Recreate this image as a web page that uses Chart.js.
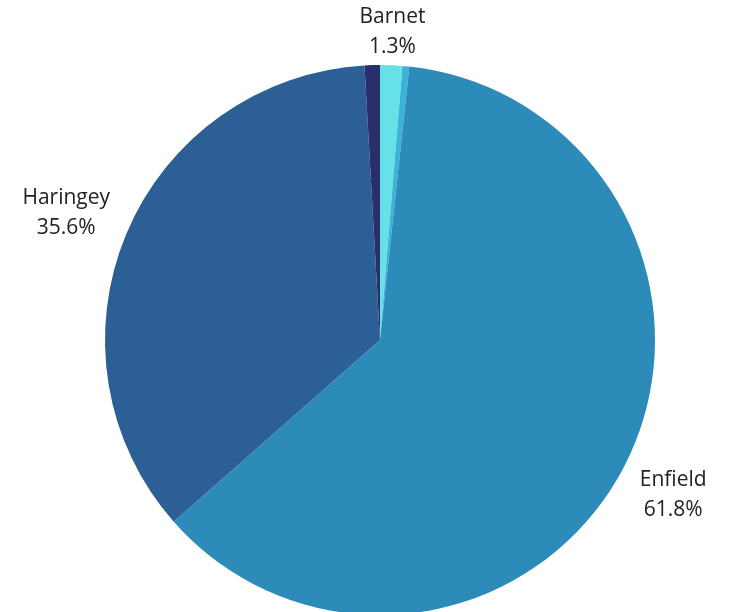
<!DOCTYPE html>
<html>
<head>
<meta charset="utf-8">
<script src="https://cdn.jsdelivr.net/npm/chart.js@4/dist/chart.umd.min.js"></script>
<style>
  html, body { margin: 0; padding: 0; background: #ffffff; overflow: hidden; }
  #wrap { width: 733px; height: 612px; position: relative; }
</style>
</head>
<body>
<div id="wrap"><canvas id="pieChart"></canvas></div>
<script>
// Borough shares (clockwise from 12 o'clock)
const boroughs = ['Barnet', 'Other', 'Enfield', 'Haringey', 'Other 2'];
const shares = [1.3, 0.4, 61.8, 35.6, 0.9];
const showLabel = [true, false, true, true, false];
const sliceColors = ['#67e1e8', '#3bb3d9', '#2d8bb9', '#2d5f97', '#2a2f6c'];

// Draws "Name / xx.x%" outside each labelled slice
const outsideLabels = {
    id: 'outsideLabels',
    afterDraw(chart) {
        const ctx = chart.ctx;
        const meta = chart.getDatasetMeta(0);
        ctx.save();
        ctx.font = '21px "Open Sans", sans-serif';
        ctx.fillStyle = '#222222';
        ctx.textAlign = 'center';
        ctx.textBaseline = 'alphabetic';
        const lineGap = 30;  // baseline to baseline
        const capH = 15;
        const halfH = (capH + lineGap) / 2;
        meta.data.forEach(function (arc, i) {
            if (!showLabel[i]) return;
            const mid = (arc.startAngle + arc.endAngle) / 2;
            const ux = Math.cos(mid);
            const uy = Math.sin(mid);
            const pct = shares[i].toFixed(1) + '%';
            const halfW = Math.max(ctx.measureText(boroughs[i]).width, ctx.measureText(pct).width) / 2;
            const d = arc.outerRadius + 2 + 27.5 * Math.abs(ux);
            const cx = arc.x + ux * d + ux * halfW * 0.86;
            const cy = arc.y + uy * d + uy * halfH * 1.4;
            const top = cy - halfH;
            ctx.fillText(boroughs[i], cx, top + capH);
            ctx.fillText(pct, cx, top + capH + lineGap);
        });
        ctx.restore();
    }
};

const ctx = document.getElementById('pieChart').getContext('2d');
new Chart(ctx, {
    type: 'pie',
    data: {
        labels: boroughs,
        datasets: [{
            data: shares,
            backgroundColor: sliceColors,
            borderWidth: 0
        }]
    },
    options: {
        responsive: true,
        maintainAspectRatio: false,
        animation: false,
        radius: 275,
        layout: { padding: { left: 105, right: 78, top: 90, bottom: 22 } },
        plugins: {
            legend: { display: false },
            tooltip: { enabled: false }
        }
    },
    plugins: [outsideLabels]
});
</script>
</body>
</html>
